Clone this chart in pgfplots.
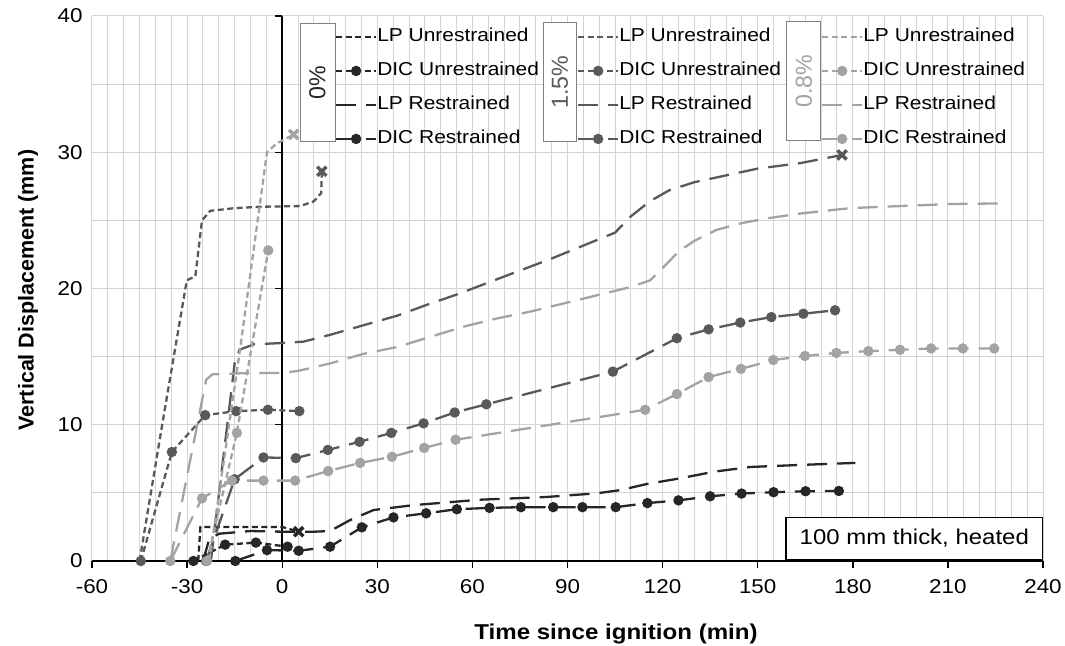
\documentclass[border=0pt]{standalone}
\usepackage{fontspec}
\setmainfont{Liberation Sans}[FakeStretch=1.12]
\newfontfamily\plainfont{Liberation Sans}
\usepackage{pgfplots}
\pgfplotsset{compat=1.18}
\definecolor{cA}{HTML}{262626}
\definecolor{cB}{HTML}{595959}
\definecolor{cC}{HTML}{A3A3A3}
\definecolor{gridc}{HTML}{D4D4D4}
\definecolor{boxc}{HTML}{7F7F7F}
\pgfplotsset{
  base/.style={scale only axis, width=951bp, height=545bp, xmin=-60, xmax=240, ymin=0, ymax=40,
    at={(0,0)}, anchor=south west, clip=false,
    legend cell align=left,
    legend image code/.code={\draw[mark repeat=2,mark phase=2,##1] plot coordinates {(0bp,0bp) (20bp,0bp) (40bp,0bp)};},
  },
  leg/.style={legend style={draw=none, fill=none, at={(#1,0.979)}, anchor=north west, inner sep=0pt, outer sep=0pt,
    row sep=15bp, column sep=0bp, font=\fontsize{18.7bp}{22bp}\selectfont,
    nodes={inner sep=0pt, text height=14bp, text depth=5bp}}},
  lpu/.style={line width=2.3bp, dash pattern=on 6bp off 3.5bp, mark=none},
  dicu/.style={line width=2.3bp, dash pattern=on 6bp off 3.5bp, mark=*, mark size=4bp, mark options={solid}},
  lpr/.style={line width=2.3bp, dash pattern=on 20bp off 10bp, mark=none},
  dicr/.style={line width=2.3bp, dash pattern=on 20bp off 10bp, mark=*, mark size=4bp, mark options={solid}},
  xm/.style={only marks, mark=x, mark size=6.5bp, mark options={line width=3.5bp, solid}},
}
\begin{document}
\begin{tikzpicture}
% ---------------- 0 % (main axis) ----------------
\begin{axis}[base, leg=0.2555,
  xtick={-60,-30,...,240}, minor xtick={-55,-50,...,235},
  ytick={0,10,20,30,40}, minor ytick={5,15,25,35},
  grid=both, major grid style={gridc, line width=1bp}, minor grid style={gridc, line width=1bp},
  axis x line*=bottom, axis y line*=left,
  x axis line style={-, black, line width=1.8bp},
  y axis line style={draw=none},
  ytick style={draw=none},
  xtick style={black, line width=1.4bp},
  xtick align=outside, major tick length=7bp, minor tick length=0bp,
  tick label style={font=\fontsize{20bp}{24bp}\selectfont},
  /pgf/number format/assume math mode=true,
  xticklabel style={yshift=-8bp},
  yticklabel style={xshift=-6bp},
  xlabel={Time since ignition (min)}, ylabel={Vertical Displacement (mm)},
  every axis x label/.style={at={(axis description cs:0.551,-0.134)}, anchor=center, font=\bfseries\fontsize{21.5bp}{26bp}\selectfont},
  every axis y label/.style={at={(axis description cs:-0.0673,0.497)}, anchor=center, rotate=90, font=\plainfont\bfseries\fontsize{21.5bp}{26bp}\selectfont},
]
\draw[black, line width=2bp] (axis cs:0,0) -- (axis cs:0,40);
\pgfplotsinvokeforeach{10,20,30,40}{\draw[black, line width=1.4bp] (axis cs:0,#1) -- ([xshift=-7bp]axis cs:0,#1);}
\addplot[lpu, cA] coordinates {(-26.5,0) (-25.8,2.5) (-20,2.5) (-10,2.5) (0,2.5) (3,2.3) (5.2,2.15)};
\addlegendentry{LP Unrestrained}
\addplot[dicu, cA] coordinates {(-28,0) (-18,1.2) (-8.3,1.35) (1.7,1.05)};
\addlegendentry{DIC Unrestrained}
\addplot[lpr, cA] coordinates {(-25,0) (-23,1.6) (-20,2.0) (-10,2.2) (0,2.15) (10,2.15) (15.1,2.2) (21.4,3.0) (28.8,3.74) (41.4,4.1) (62.5,4.5) (83.5,4.7) (99.3,4.97) (106.6,5.2) (115,5.65) (125.6,6.07) (136.1,6.55) (147.6,6.9) (163.4,7.05) (180.8,7.2)};
\addlegendentry{LP Restrained}
\addplot[dicr, cA] coordinates {(-14.8,0) (-4.8,0.8) (5.2,0.75) (15.1,1.05) (25.1,2.47) (35.1,3.2) (45.4,3.5) (55.1,3.8) (65.4,3.9) (75.3,3.95) (85.5,3.95) (94.7,3.95) (105.2,3.95) (115.2,4.25) (125,4.45) (135,4.75) (144.9,4.95) (155,5.05) (165.1,5.12) (175.6,5.14)};
\addlegendentry{DIC Restrained}
\addplot[xm, cA, forget plot] coordinates {(5.2,2.15)};
\end{axis}
% ---------------- 1.5 % ----------------
\begin{axis}[base, leg=0.510, hide axis]
\addplot[lpu, cB] coordinates {(-45,0) (-37.5,10.5) (-30.1,20.6) (-27.4,20.9) (-25.3,25.0) (-22.7,25.7) (-15,25.9) (-6.9,26.0) (5.7,26.05) (10,26.4) (12.3,27.0) (12.5,28.6)};
\addlegendentry{LP Unrestrained}
\addplot[dicu, cB] coordinates {(-44.6,0) (-34.8,8.0) (-24.3,10.7) (-14.5,11.0) (-4.5,11.1) (5.4,11.0)};
\addlegendentry{DIC Unrestrained}
\addplot[lpr, cB] coordinates {(-22.5,0) (-15,14.5) (-13.5,15.5) (-9,15.9) (0,16.0) (6.7,16.1) (15.1,16.6) (25.6,17.3) (36.2,18.0) (45.6,18.8) (56.2,19.65) (64.6,20.4) (85,22.2) (105,24.1) (110,25.3) (116,26.4) (122,27.2) (130,27.8) (140,28.3) (150,28.8) (163.4,29.2) (176.6,29.8)};
\addlegendentry{LP Restrained}
\addplot[dicr, cB] coordinates {(-24,0) (-15,6.0) (-5.9,7.6) (4.3,7.55) (14.4,8.15) (24.4,8.75) (34.4,9.4) (44.6,10.1) (54.4,10.9) (64.4,11.5) (104.3,13.9) (124.5,16.35) (134.5,17.0) (144.5,17.5) (154.3,17.9) (164.4,18.15) (174.4,18.4)};
\addlegendentry{DIC Restrained}
\addplot[xm, cB, forget plot] coordinates {(12.5,28.6) (176.6,29.8)};
\end{axis}
% ---------------- 0.8 % ----------------
\begin{axis}[base, leg=0.7666, hide axis]
\addplot[lpu, cC] coordinates {(-23,0) (-13.2,15.7) (-4.8,30.0) (-1.7,30.65) (3.6,31.3)};
\addlegendentry{LP Unrestrained}
\addplot[dicu, cC] coordinates {(-23.7,0) (-14.3,9.4) (-4.4,22.8)};
\addlegendentry{DIC Unrestrained}
\addplot[lpr, cC] coordinates {(-35.3,0) (-24,13.3) (-22,13.7) (-10,13.8) (0,13.8) (5,13.95) (15.1,14.5) (25.6,15.2) (36.2,15.7) (46.7,16.45) (57.2,17.2) (67.7,17.8) (78.2,18.3) (88.7,18.9) (99.3,19.5) (109.8,20.1) (116.1,20.6) (120,21.5) (125,22.7) (130,23.5) (137,24.3) (145,24.8) (152.9,25.15) (163.4,25.5) (179.2,25.9) (195,26.05) (210.7,26.2) (228.6,26.25)};
\addlegendentry{LP Restrained}
\addplot[dicr, cC] coordinates {(-35.3,0) (-25.3,4.6) (-15.9,5.9) (-5.9,5.9) (4.1,5.9) (14.5,6.6) (24.6,7.2) (34.6,7.65) (44.8,8.3) (54.7,8.9) (114.5,11.1) (124.5,12.25) (134.5,13.5) (144.7,14.1) (154.9,14.75) (164.9,15.05) (174.8,15.27) (184.9,15.4) (194.9,15.5) (204.7,15.6) (214.7,15.6) (224.6,15.6)};
\addlegendentry{DIC Restrained}
\addplot[xm, cC, forget plot] coordinates {(3.6,31.3)};
\end{axis}
% ---------------- boxes ----------------
\node[draw=boxc, fill=white, line width=1bp, rotate=90, minimum width=118.4bp, minimum height=35bp, inner sep=0pt, text=cA, font=\plainfont\fontsize{23.2bp}{26bp}\selectfont] at (225.5bp,478.5bp) {0\%};
\node[draw=boxc, fill=white, line width=1bp, rotate=90, minimum width=119bp, minimum height=33.4bp, inner sep=0pt, text=cB, font=\plainfont\fontsize{23.2bp}{26bp}\selectfont] at (468bp,478.8bp) {1.5\%};
\node[draw=boxc, fill=white, line width=1bp, rotate=90, minimum width=119bp, minimum height=34.3bp, inner sep=0pt, text=cC, font=\plainfont\fontsize{23.2bp}{26bp}\selectfont] at (711.8bp,479.8bp) {0.8\%};
\node[draw=black, fill=white, line width=1.2bp, minimum width=256.7bp, minimum height=42bp, inner sep=0pt, font=\fontsize{21.4bp}{26bp}\selectfont] at (822.3bp,22.7bp) {100 mm thick, heated};
\pgfresetboundingbox
\path (-92bp,-85bp) rectangle (973bp,561bp);
\end{tikzpicture}
\end{document}
